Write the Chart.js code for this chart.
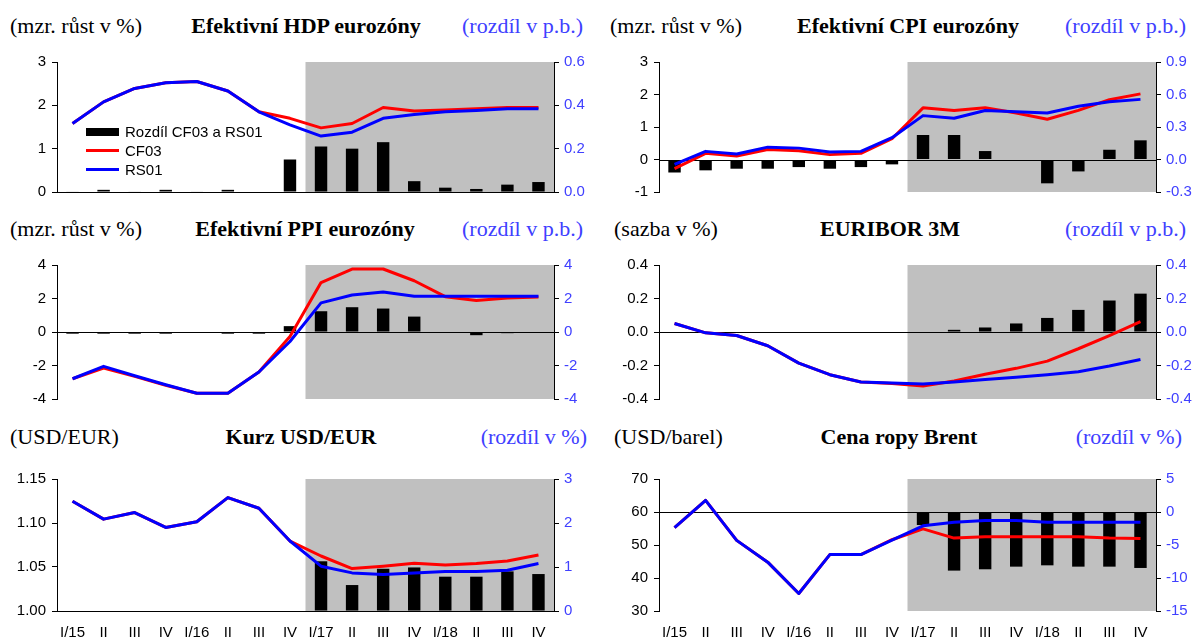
<!DOCTYPE html>
<html lang="cs">
<head>
<meta charset="utf-8">
<title>Efektivní ukazatele eurozóny – CF03 vs RS01</title>
<script src="https://cdn.jsdelivr.net/npm/chart.js@4.4.1/dist/chart.umd.min.js"></script>
<style>
  html, body { margin: 0; padding: 0; background: #fff; }
  body { width: 1204px; height: 637px; position: relative; overflow: hidden; }
  .hdr { position: absolute; font-family: 'Liberation Serif', 'Times New Roman', serif; font-size: 22px; line-height: 26px; white-space: nowrap; color: #000; }
  .hdr.title { font-weight: bold; transform: translateX(-50%); }
  .hdr.unit-r { color: #4040ff; }
  canvas.panel { position: absolute; }
  .legend { position: absolute; left: 86px; top: 122px; font-family: 'Liberation Sans', Arial, sans-serif; font-size: 15px; }
  .legend div { position: relative; height: 19px; line-height: 19px; padding-left: 39px; white-space: nowrap; }
  .legend span { position: absolute; left: 0; width: 33px; }
  .legend .sw-bar { top: 6px; height: 8px; background: #000; }
  .legend .sw-red { top: 8px; height: 3px; background: #ff0000; }
  .legend .sw-blue { top: 8px; height: 3px; background: #0000ff; }
</style>
</head>
<body>

<!-- headers -->
<div class="hdr" style="left:10px; top:13px;">(mzr. růst v %)</div>
<div class="hdr title" style="left:306px; top:13px;">Efektivní HDP eurozóny</div>
<div class="hdr unit-r" style="right:621px; top:13px;">(rozdíl v p.b.)</div>

<div class="hdr" style="left:610px; top:13px;">(mzr. růst v %)</div>
<div class="hdr title" style="left:908px; top:13px;">Efektivní CPI eurozóny</div>
<div class="hdr unit-r" style="right:18px; top:13px;">(rozdíl v p.b.)</div>

<div class="hdr" style="left:10px; top:216px;">(mzr. růst v %)</div>
<div class="hdr title" style="left:305px; top:216px;">Efektivní PPI eurozóny</div>
<div class="hdr unit-r" style="right:621px; top:216px;">(rozdíl v p.b.)</div>

<div class="hdr" style="left:614px; top:216px;">(sazba v %)</div>
<div class="hdr title" style="left:890px; top:216px;">EURIBOR 3M</div>
<div class="hdr unit-r" style="right:18px; top:216px;">(rozdíl v p.b.)</div>

<div class="hdr" style="left:10px; top:424px;">(USD/EUR)</div>
<div class="hdr title" style="left:301px; top:424px;">Kurz USD/EUR</div>
<div class="hdr unit-r" style="right:617px; top:424px;">(rozdíl v %)</div>

<div class="hdr" style="left:614px; top:424px;">(USD/barel)</div>
<div class="hdr title" style="left:899px; top:424px;">Cena ropy Brent</div>
<div class="hdr unit-r" style="right:22px; top:424px;">(rozdíl v %)</div>

<canvas id="hdp-chart" class="panel" width="594" height="160" style="left:0; top:47px;"></canvas>
<canvas id="cpi-chart" class="panel" width="594" height="160" style="left:602px; top:47px;"></canvas>
<canvas id="ppi-chart" class="panel" width="594" height="164" style="left:0; top:250px;"></canvas>
<canvas id="euribor-chart" class="panel" width="594" height="164" style="left:602px; top:250px;"></canvas>
<canvas id="usd-chart" class="panel" width="594" height="173" style="left:0; top:464px;"></canvas>
<canvas id="brent-chart" class="panel" width="594" height="173" style="left:602px; top:464px;"></canvas>

<div class="legend">
  <div><span class="sw-bar"></span>Rozdíl CF03 a RS01</div>
  <div><span class="sw-red"></span>CF03</div>
  <div><span class="sw-blue"></span>RS01</div>
</div>

<script>
// Quarters I/15 .. IV/18
const categories = ['I/15', 'II', 'III', 'IV', 'I/16', 'II', 'III', 'IV', 'I/17', 'II', 'III', 'IV', 'I/18', 'II', 'III', 'IV'];
const forecastStart = 8; // first forecast quarter (I/17)

// Efektivní HDP eurozóny
const hdpCF03 = [1.58, 2.08, 2.39, 2.52, 2.55, 2.33, 1.85, 1.70, 1.48, 1.58, 1.95, 1.87, 1.89, 1.92, 1.95, 1.95];
const hdpRS01 = [1.58, 2.08, 2.39, 2.52, 2.55, 2.33, 1.85, 1.55, 1.29, 1.38, 1.70, 1.79, 1.85, 1.88, 1.92, 1.92];
const hdpDiff = [0.002, 0.01, 0.002, 0.01, 0.002, 0.01, -0.005, 0.15, 0.21, 0.20, 0.23, 0.05, 0.02, 0.014, 0.034, 0.046];

// Efektivní CPI eurozóny
const cpiCF03 = [-0.28, 0.19, 0.11, 0.31, 0.27, 0.15, 0.19, 0.64, 1.59, 1.51, 1.59, 1.43, 1.24, 1.51, 1.84, 2.02];
const cpiRS01 = [-0.15, 0.25, 0.17, 0.38, 0.35, 0.23, 0.25, 0.67, 1.35, 1.27, 1.51, 1.47, 1.43, 1.64, 1.78, 1.85];
const cpiDiff = [-0.12, -0.10, -0.085, -0.085, -0.07, -0.085, -0.07, -0.045, 0.226, 0.226, 0.078, -0.005, -0.22, -0.11, 0.09, 0.177];

// Efektivní PPI eurozóny
const ppiCF03 = [-2.79, -2.15, -2.65, -3.18, -3.66, -3.66, -2.39, -0.27, 2.95, 3.76, 3.76, 3.06, 2.11, 1.88, 2.03, 2.09];
const ppiRS01 = [-2.79, -2.05, -2.61, -3.15, -3.66, -3.66, -2.39, -0.57, 1.74, 2.21, 2.39, 2.13, 2.13, 2.13, 2.13, 2.13];
const ppiDiff = [-0.1, -0.1, -0.1, -0.1, -0.02, -0.1, -0.1, 0.35, 1.24, 1.48, 1.40, 0.92, -0.02, -0.19, -0.07, -0.03];

// EURIBOR 3M
const euriborCF03 = [0.051, -0.005, -0.021, -0.082, -0.186, -0.255, -0.298, -0.308, -0.322, -0.292, -0.252, -0.217, -0.174, -0.100, -0.021, 0.062];
const euriborRS01 = [0.051, -0.005, -0.021, -0.082, -0.186, -0.255, -0.298, -0.304, -0.310, -0.298, -0.283, -0.270, -0.255, -0.237, -0.203, -0.164];
const euriborDiff = [null, null, null, null, null, null, null, null, -0.003, 0.013, 0.027, 0.051, 0.084, 0.132, 0.188, 0.229];

// Kurz USD/EUR
const usdCF03 = [1.1247, 1.1044, 1.1119, 1.0950, 1.1014, 1.1289, 1.1168, 1.0795, 1.0625, 1.0482, 1.0509, 1.0543, 1.0524, 1.0539, 1.0569, 1.0637];
const usdRS01 = [1.1247, 1.1044, 1.1119, 1.0950, 1.1014, 1.1289, 1.1168, 1.0795, 1.0509, 1.0433, 1.0414, 1.0433, 1.0448, 1.0448, 1.0464, 1.0539];
const usdDiff = [null, null, null, null, null, null, null, null, 1.13, 0.59, 0.96, 0.99, 0.78, 0.78, 0.90, 0.84];

// Cena ropy Brent
const brentCF03 = [55.3, 63.5, 51.4, 44.8, 35.3, 47.1, 47.1, 51.6, 54.9, 52.1, 52.5, 52.5, 52.5, 52.5, 52.1, 52.0];
const brentRS01 = [55.3, 63.5, 51.4, 44.8, 35.3, 47.1, 47.1, 51.5, 55.8, 56.9, 57.4, 57.4, 56.9, 56.9, 56.9, 56.9];
const brentDiff = [null, null, null, null, null, null, null, null, -1.97, -8.88, -8.68, -8.28, -8.08, -8.28, -8.28, -8.48];

Chart.defaults.font.family = "'Liberation Sans', Arial, sans-serif";
Chart.defaults.font.size = 15;
Chart.defaults.color = '#000';

// Grey background behind the forecast quarters
const forecastBand = {
  id: 'forecastBand',
  beforeDraw(chart, args, opts) {
    const { ctx, chartArea, scales } = chart;
    const x0 = scales.x.getPixelForValue(opts.start - 0.5);
    ctx.save();
    ctx.fillStyle = opts.color;
    ctx.fillRect(x0, chartArea.top, chartArea.right - x0, chartArea.bottom - chartArea.top);
    ctx.restore();
  },
};

// Horizontal axis line (zero line or bottom line)
const baseLine = {
  id: 'baseLine',
  beforeDatasetsDraw(chart, args, opts) {
    const { ctx, chartArea, scales } = chart;
    const y = Math.round(scales.y.getPixelForValue(opts.value)) + 0.5;
    ctx.save();
    ctx.strokeStyle = '#000';
    ctx.lineWidth = 1;
    ctx.beginPath();
    ctx.moveTo(chartArea.left, y);
    ctx.lineTo(chartArea.right, y);
    ctx.stroke();
    ctx.restore();
  },
};

class PanelsManager {
  constructor() {
    this.chartInstances = {};
  }

  // Create one panel: two lines on left axis, difference bars on right axis
  createPanel(key, canvasId, p) {
    const ctx = document.getElementById(canvasId);
    if (!ctx) return;

    const config = {
      type: 'bar',
      data: {
        labels: categories,
        datasets: [
          {
            type: 'line',
            label: 'RS01',
            data: p.rs,
            yAxisID: 'y',
            borderColor: '#0000ff',
            borderWidth: 3,
            pointRadius: 0,
            tension: 0,
            borderJoinStyle: 'round',
          },
          {
            type: 'line',
            label: 'CF03',
            data: p.cf,
            yAxisID: 'y',
            borderColor: '#ff0000',
            borderWidth: 3,
            pointRadius: 0,
            tension: 0,
            borderJoinStyle: 'round',
          },
          {
            label: 'Rozdíl CF03 a RS01',
            data: p.diff,
            yAxisID: 'y1',
            backgroundColor: '#000',
            borderWidth: 0,
            barPercentage: 0.4,
            categoryPercentage: 1,
          },
        ],
      },
      options: {
        responsive: false,
        animation: false,
        events: [],
        layout: { padding: { top: 10, bottom: p.showX ? 0 : 10, left: 0, right: 0 } },
        plugins: {
          legend: { display: false },
          tooltip: { enabled: false },
          forecastBand: { start: forecastStart, color: '#c0c0c0' },
          baseLine: { value: p.base },
        },
        scales: {
          x: {
            display: p.showX,
            offset: true,
            grid: { display: false, drawTicks: false },
            border: { display: false },
            ticks: { autoSkip: false, maxRotation: 0, padding: 13, font: { size: 15 } },
            afterFit: (s) => { if (p.showX) s.height = 26; },
          },
          y: {
            position: 'left',
            min: p.yMin,
            max: p.yMax,
            ticks: {
              stepSize: p.yStep,
              padding: 6,
              color: '#000',
              callback: (v) => Number(v).toFixed(p.yDec),
            },
            grid: { drawOnChartArea: false, drawTicks: true, tickLength: 5, color: '#000' },
            border: { display: true, color: '#000', width: 1 },
            afterFit: (s) => { s.width = 57; },
          },
          y1: {
            position: 'right',
            min: p.y1Min,
            max: p.y1Max,
            ticks: {
              stepSize: p.y1Step,
              padding: 5,
              color: '#4040ff',
              callback: (v) => Number(v).toFixed(p.y1Dec),
            },
            grid: { drawOnChartArea: false, drawTicks: true, tickLength: 5, color: '#000' },
            border: { display: true, color: '#000', width: 1 },
            afterFit: (s) => { s.width = 40; },
          },
        },
      },
      plugins: [forecastBand, baseLine],
    };

    this.chartInstances[key] = new Chart(ctx, config);
  }

  initCharts() {
    this.createPanel('hdp', 'hdp-chart', {
      cf: hdpCF03, rs: hdpRS01, diff: hdpDiff, base: 0, showX: false,
      yMin: 0, yMax: 3, yStep: 1, yDec: 0, y1Min: 0, y1Max: 0.6, y1Step: 0.2, y1Dec: 1,
    });
    this.createPanel('cpi', 'cpi-chart', {
      cf: cpiCF03, rs: cpiRS01, diff: cpiDiff, base: 0, showX: false,
      yMin: -1, yMax: 3, yStep: 1, yDec: 0, y1Min: -0.3, y1Max: 0.9, y1Step: 0.3, y1Dec: 1,
    });
    this.createPanel('ppi', 'ppi-chart', {
      cf: ppiCF03, rs: ppiRS01, diff: ppiDiff, base: 0, showX: false,
      yMin: -4, yMax: 4, yStep: 2, yDec: 0, y1Min: -4, y1Max: 4, y1Step: 2, y1Dec: 0,
    });
    this.createPanel('euribor', 'euribor-chart', {
      cf: euriborCF03, rs: euriborRS01, diff: euriborDiff, base: 0, showX: false,
      yMin: -0.4, yMax: 0.4, yStep: 0.2, yDec: 1, y1Min: -0.4, y1Max: 0.4, y1Step: 0.2, y1Dec: 1,
    });
    this.createPanel('usd', 'usd-chart', {
      cf: usdCF03, rs: usdRS01, diff: usdDiff, base: 1.0, showX: true,
      yMin: 1.0, yMax: 1.15, yStep: 0.05, yDec: 2, y1Min: 0, y1Max: 3, y1Step: 1, y1Dec: 0,
    });
    this.createPanel('brent', 'brent-chart', {
      cf: brentCF03, rs: brentRS01, diff: brentDiff, base: 60, showX: true,
      yMin: 30, yMax: 70, yStep: 10, yDec: 0, y1Min: -15, y1Max: 5, y1Step: 5, y1Dec: 0,
    });
  }
}

window.panelsManager = new PanelsManager();
window.panelsManager.initCharts();
</script>
</body>
</html>
